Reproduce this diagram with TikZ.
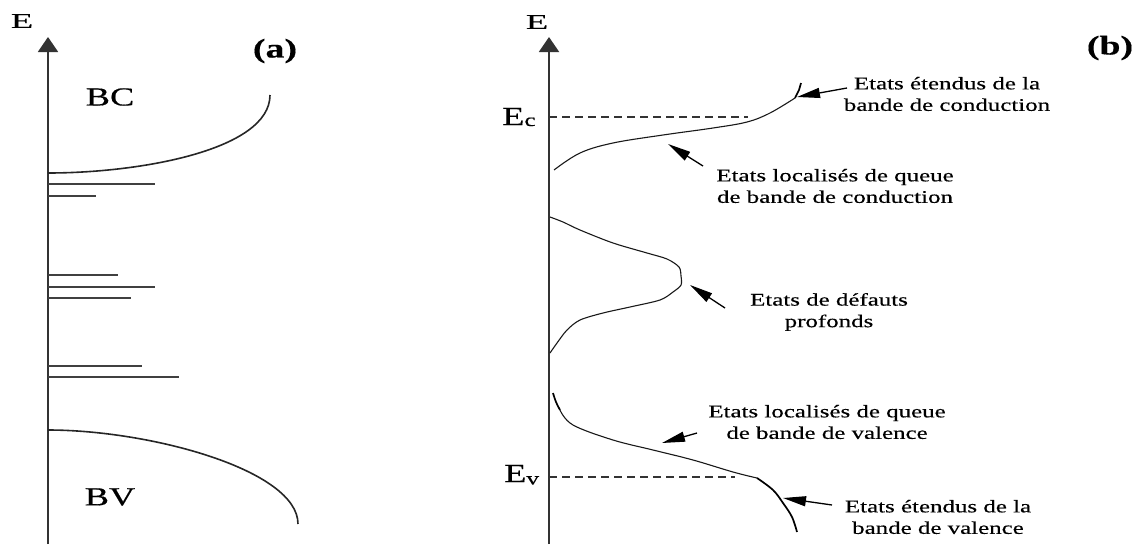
\documentclass[tikz,border=0pt]{standalone}
\usepackage{fontspec}
\setmainfont{Liberation Serif}[FakeStretch=1.4, FakeBold=0.4]
\usetikzlibrary{arrows.meta}
\begin{document}
\begin{tikzpicture}[x=1pt,y=-1pt,
  ax/.style={line width=2pt, draw=black!80, -{Triangle[length=15pt,width=20pt]}},
  band/.style={line width=1.6pt, draw=black!85},
  lvl/.style={line width=1.5pt, draw=black!75},
  dos/.style={line width=1.1pt, draw=black!90},
  ext/.style={line width=1.7pt, draw=black},
  dsh/.style={line width=1.1pt, draw=black!80, dash pattern=on 8pt off 5pt},
  ptr/.style={line width=1.3pt, draw=black, -{Triangle[length=23pt,width=10pt]}},
  lab/.style={font=\fontsize{17.8}{21.5}\selectfont, align=center, inner sep=0pt},
  big/.style={font=\fontsize{26}{26}\selectfont, inner sep=0pt},
  axl/.style={font=\fontsize{21}{21}\selectfont, inner sep=0pt},
  tag/.style={font=\fontsize{27}{27}\selectfont\bfseries, inner sep=0pt},
  ]
\useasboundingbox (0,0) rectangle (1140,544);

% ---------- panel (a) ----------
\coordinate (A0) at (48,544);
\coordinate (A1) at (48,37);
\draw[ax] (A0) -- (A1);
\node[axl] (Ea) at (22,21) {\scalebox{1.25}[1]{E}};
\node[tag] (la) at (275,51) {(a)};
\node[big] (BC) at (110,97) {BC};
\node[big] (BV) at (110,497) {BV};

\draw[band] (48,173) .. controls (140,173) and (270,150) .. (270,95);
\draw[band] (48,430) .. controls (150,430) and (298,470) .. (298,524);

\draw[lvl] (48,184) -- (155,184);
\draw[lvl] (48,196) -- (96,196);
\draw[lvl] (48,275) -- (118,275);
\draw[lvl] (48,287) -- (155,287);
\draw[lvl] (48,298) -- (131,298);
\draw[lvl] (48,366) -- (142,366);
\draw[lvl] (48,377) -- (179,377);

% ---------- panel (b) ----------
\coordinate (B0) at (549,544);
\coordinate (B1) at (549,37);
\draw[ax] (B0) -- (B1);
\node[axl] (Eb) at (537,22) {\scalebox{1.25}[1]{E}};
\node[tag] (lb) at (1110,48) {(b)};

\node[big, anchor=base west] (Ec) at (502,125) {E\raisebox{-1pt}{\fontsize{18}{18}\selectfont c}};
\node[big, anchor=base west] (Ev) at (504,482) {E\raisebox{-2.5pt}{\fontsize{18}{18}\selectfont v}};

\coordinate (Ec0) at (549,117); \coordinate (Ec1) at (748,117);
\coordinate (Ev0) at (549,477); \coordinate (Ev1) at (735,477);
\draw[dsh] (Ec0) -- (Ec1);
\draw[dsh] (Ev0) -- (Ev1);

% conduction band tail
\draw[dos] plot[smooth, tension=0.6] coordinates {(554,170) (580,153) (613,143) (663,135) (713,128) (747,122) (770,113) (795,98)};
\draw[ext] (795,98) -- (799,90) -- (801,83);

% deep defects
\draw[dos] plot[smooth, tension=0.5] coordinates {(550,217) (563,222) (580,230) (613,243) (647,253) (667,259) (679,267) (681,276) (681,285) (673,292) (660,300) (630,307) (603,313) (580,320) (567,330) (557,343) (550,353)};

% valence band tail
\draw[ext] plot[smooth, tension=0.6] coordinates {(553,393) (556,402) (560,410)};
\draw[dos] plot[smooth, tension=0.6] coordinates {(560,410) (573,425) (613,440) (653,450) (693,460) (733,472) (757,478)};
\draw[ext] plot[smooth, tension=0.6] coordinates {(757,478) (773,490) (783,503) (792,517) (797,532)};

% labels
\node[lab] (n1) at (947,94) {Etats étendus de la\\bande de conduction};
\node[lab] (n2) at (835,186) {Etats localisés de queue\\de bande de conduction};
\node[lab] (n3) at (829,312) {Etats de défauts\\profonds};
\node[lab] (n4) at (827,422) {Etats localisés de queue\\de bande de valence};
\node[lab] (n5) at (938,517) {Etats étendus de la\\bande de valence};

% pointers
\coordinate (t1) at (847,88);  \coordinate (h1) at (797,97);
\coordinate (t2) at (703,166); \coordinate (h2) at (668,144);
\coordinate (t3) at (725,308); \coordinate (h3) at (690,285);
\coordinate (t4) at (697,433); \coordinate (h4) at (662,443);
\coordinate (t5) at (832,505); \coordinate (h5) at (783,498);
\draw[ptr] (t1) -- (h1);
\draw[ptr] (t2) -- (h2);
\draw[ptr] (t3) -- (h3);
\draw[ptr] (t4) -- (h4);
\draw[ptr] (t5) -- (h5);
\end{tikzpicture}
\end{document}
